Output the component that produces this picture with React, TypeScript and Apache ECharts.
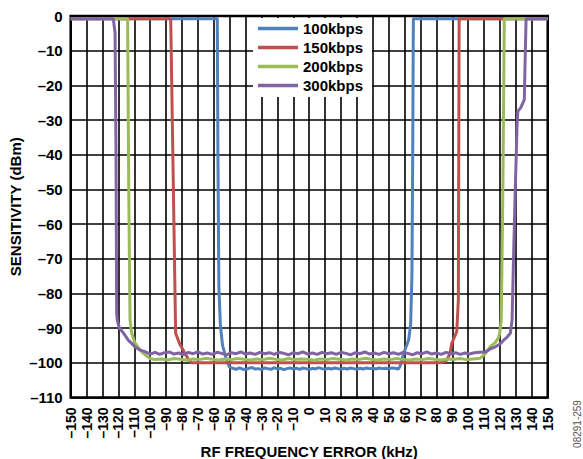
import React, { useEffect, useRef } from "react";
import * as echarts from "echarts";

const FONT = "'Liberation Sans', Arial, Helvetica, sans-serif";

const seriesNames = ["100kbps", "150kbps", "200kbps", "300kbps"];
const seriesColors = ["#4F81BD", "#C0504D", "#9BBB59", "#8064A2"];

// [RF frequency error (kHz), sensitivity (dBm)]
const data100kbps: [number, number][] = [
  [-150, -0.8], [-57.8, -0.8], [-57.4, -40], [-56.8, -78], [-55.9, -89], [-54.5, -95], [-52.4, -98.6], [-50.2, -101.2],
  [-48, -101.6], [-46, -101.9], [-44, -101.5], [-42, -101.8], [-40, -102.0], [-38, -101.6], [-36, -101.4], [-34, -101.8],
  [-32, -101.7], [-30, -102.0], [-28, -101.5], [-26, -101.7], [-24, -101.9], [-22, -101.4], [-20, -101.8], [-18, -101.6],
  [-16, -102.0], [-14, -101.7], [-12, -101.5], [-10, -101.8], [-8, -101.6], [-6, -101.9], [-4, -101.5], [-2, -101.7],
  [0, -102.0], [2, -101.6], [4, -101.8], [6, -101.4], [8, -101.7], [10, -101.9], [12, -101.6], [14, -101.8],
  [16, -101.5], [18, -101.7], [20, -101.9], [22, -101.6], [24, -101.8], [26, -101.5], [28, -101.7], [30, -101.9],
  [32, -101.6], [34, -101.8], [36, -101.5], [38, -101.7], [40, -101.6], [42, -101.8], [44, -101.5], [46, -101.7],
  [48, -101.6], [50, -101.8], [52, -101.5], [54, -101.6], [56, -101.8],
  [57, -101.2], [58, -99.8], [59.3, -97.4], [61, -95.3], [62.5, -93.5], [63.8, -89], [64.6, -75], [65.1, -40], [65.5, -0.8], [150, -0.8],
];

const data150kbps: [number, number][] = [
  [-150, -0.8], [-87.1, -0.8], [-84, -91.5], [-81.5, -94.5], [-78.5, -97], [-76, -99], [-74, -100],
  [82.3, -100], [86, -99.5], [88.5, -97.5], [89.6, -94.5], [92.8, -91], [93.8, -82], [94.3, -0.8], [150, -0.8],
];

const data200kbps: [number, number][] = [
  [-150, -0.8], [-114.2, -0.8], [-113.5, -50], [-112.7, -87.7], [-111.6, -91.5], [-109.6, -94.3], [-107, -96], [-104.3, -97.3], [-100.1, -98.8],
  [-97, -99.1], [-93, -98.9], [-89, -99.2], [-85, -98.8], [-81, -99.0], [-77, -99.3], [-73, -98.9], [-69, -99.1],
  [-65, -98.7], [-61, -99.0], [-57, -99.2], [-53, -98.9], [-49, -99.1], [-45, -98.8], [-41, -99.0], [-37, -99.2],
  [-33, -98.9], [-29, -99.1], [-25, -98.7], [-21, -99.0], [-17, -99.2], [-13, -98.8], [-9, -99.1], [-5, -98.9],
  [-1, -99.0], [3, -99.3], [7, -98.9], [11, -99.1], [15, -98.8], [19, -99.0], [23, -99.2], [27, -98.9],
  [31, -99.1], [35, -98.7], [39, -99.0], [43, -99.2], [47, -98.9], [51, -99.1], [55, -98.8], [59, -99.0],
  [63, -99.2], [67, -98.9], [71, -99.1], [75, -98.8], [79, -99.0], [83, -99.2], [87, -98.9], [91, -99.0],
  [95, -98.8], [99, -99.1], [103, -98.9],
  [107.5, -98.7], [110.5, -97.5], [113.8, -95.4], [117, -94.2], [119, -92.8], [119.8, -91.5], [120.8, -87.7], [121.8, -50], [122.7, -0.8], [150, -0.8],
];

const data300kbps: [number, number][] = [
  [-150, -0.8], [-123.2, -0.8], [-122.1, -4.9], [-121.5, -40], [-121.1, -85.7], [-120.7, -87.7], [-119.4, -90], [-116.9, -91.4],
  [-113.8, -93.5], [-111.5, -94.5], [-109.6, -95.4], [-106.5, -96.3], [-103.3, -96.8],
  [-100, -97.5], [-97, -97.0], [-94, -97.6], [-91, -97.1], [-88, -96.9], [-85, -97.5], [-82, -97.2], [-79, -97.7],
  [-76, -97.0], [-73, -97.4], [-70, -96.9], [-67, -97.5], [-64, -97.2], [-61, -97.6], [-58, -97.0], [-55, -97.3],
  [-52, -97.7], [-49, -97.1], [-46, -97.4], [-43, -96.9], [-40, -97.5], [-37, -97.2], [-34, -97.6], [-31, -97.0],
  [-28, -97.4], [-25, -97.1], [-22, -97.6], [-19, -97.0], [-16, -97.3], [-13, -97.7], [-10, -97.1], [-7, -97.4],
  [-4, -96.9], [-1, -97.5], [2, -97.2], [5, -97.6], [8, -97.0], [11, -97.4], [14, -97.1], [17, -97.6],
  [20, -97.0], [23, -97.3], [26, -97.7], [29, -97.1], [32, -97.4], [35, -96.9], [38, -97.5], [41, -97.2],
  [44, -97.6], [47, -97.0], [50, -97.4], [53, -97.1], [56, -97.6], [59, -97.0], [62, -97.3], [65, -97.7],
  [68, -97.1], [71, -97.4], [74, -96.9], [77, -97.5], [80, -97.2], [83, -97.6], [86, -97.0], [89, -97.4],
  [92, -97.1], [95, -97.6], [98, -97.2], [101, -97.5], [104, -97.1],
  [107, -97.0], [110.8, -96.9], [114, -96.0], [117.1, -95.4], [120, -94.6], [122.3, -93.5], [124.5, -92.6], [126.5, -91.5],
  [127.6, -87.7], [128.5, -70], [129.6, -50], [130.7, -32], [131.2, -27.5], [133, -26.5], [135.3, -24.1], [135.7, -15], [136.4, -0.8], [150, -0.8],
];

const seriesData = [data100kbps, data150kbps, data200kbps, data300kbps];

const xMin = -150;
const xMax = 150;
const xStep = 10;
const yMin = -110;
const yMax = 0;
const yStep = 10;

const dash = (v: number) => String(v).replace("-", "\u2013");

export default function App() {
  const ref = useRef<HTMLDivElement>(null);
  useEffect(() => {
    if (!ref.current) return;
    const chart = echarts.init(ref.current, null, { renderer: "svg" });
    const axisText = { color: "#000", fontWeight: "bold" as const, fontFamily: FONT };
    chart.setOption({
      animation: false,
      backgroundColor: "#fff",
      textStyle: { fontFamily: FONT },
      grid: {
        left: 70.7,
        right: 35.3,
        top: 16,
        bottom: 61.6,
        show: true,
        borderColor: "#000",
        borderWidth: 2.5,
        backgroundColor: "transparent",
        containLabel: false,
        outerBoundsMode: "none",
      },
      legend: {
        orient: "vertical",
        left: 253,
        top: 18,
        padding: [3, 9, 4, 5],
        backgroundColor: "#fff",
        icon: "rect",
        itemWidth: 40,
        itemHeight: 3.5,
        itemGap: 4,
        data: seriesNames,
        textStyle: { fontSize: 15, lineHeight: 15, fontWeight: "bold", color: "#000", fontFamily: FONT },
      },
      xAxis: {
        type: "value",
        min: xMin,
        max: xMax,
        interval: xStep,
        axisLine: { show: false },
        axisTick: { show: false },
        splitLine: { show: true, lineStyle: { color: "#000", width: 1.6 } },
        axisLabel: { ...axisText, fontSize: 14, rotate: 90, margin: 10, formatter: dash },
        name: "RF FREQUENCY ERROR (kHz)",
        nameLocation: "middle",
        nameGap: 47,
        nameMoveOverlap: false,
        nameTextStyle: { ...axisText, fontSize: 15 },
      },
      yAxis: {
        type: "value",
        min: yMin,
        max: yMax,
        interval: yStep,
        axisLine: { show: false },
        axisTick: { show: false },
        splitLine: { show: true, lineStyle: { color: "#000", width: 1.6 } },
        axisLabel: { ...axisText, fontSize: 15, margin: 8, formatter: dash },
        name: "SENSITIVITY (dBm)",
        nameLocation: "middle",
        nameGap: 48,
        nameMoveOverlap: false,
        nameTextStyle: { ...axisText, fontSize: 15 },
      },
      graphic: [
        {
          type: "text",
          x: 577,
          y: 424,
          rotation: Math.PI / 2,
          style: {
            text: "08291-259",
            fontSize: 10,
            fill: "#555",
            align: "center",
            verticalAlign: "middle",
            fontFamily: FONT,
          },
        },
      ],
      series: seriesNames.map((name, i) => ({
        type: "line",
        name,
        data: seriesData[i],
        symbol: "none",
        clip: false,
        lineStyle: { width: 3, color: seriesColors[i] },
        itemStyle: { color: seriesColors[i] },
      })),
    });
    return () => chart.dispose();
  }, []);
  return <div ref={ref} style={{ position: "fixed", left: 0, top: 0, width: 583, height: 459 }} />;
}
